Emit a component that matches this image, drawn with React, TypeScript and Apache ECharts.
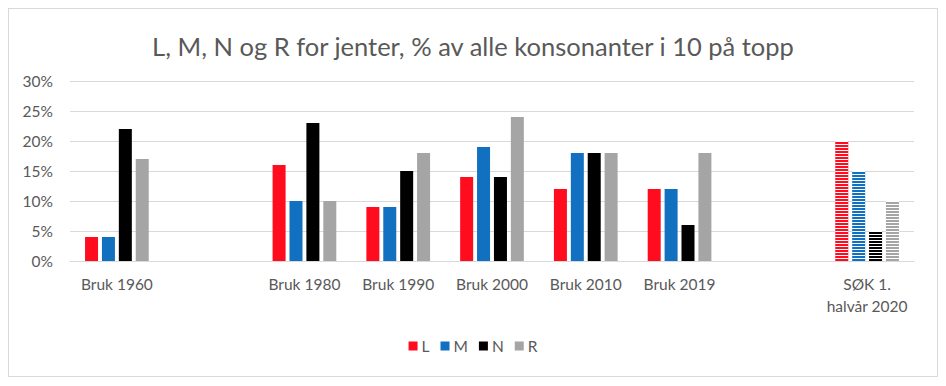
import React, { useEffect, useRef } from "react";
import * as echarts from "echarts";

const categories = ["Bruk 1960", "", "Bruk 1980", "Bruk 1990", "Bruk 2000", "Bruk 2010", "Bruk 2019", "", "SØK 1.\nhalvår 2020"];
const seriesNames = ["L", "M", "N", "R"];
const valuesL = [4, null, 16, 9, 14, 12, 12, null, 20];
const valuesM = [4, null, 10, 9, 19, 18, 12, null, 15];
const valuesN = [22, null, 23, 15, 14, 18, 6, null, 5];
const valuesR = [17, null, 10, 18, 24, 18, 18, null, 10];
const yTicks = [0, 5, 10, 15, 20, 25, 30];
const colors = ["#FF0D1F", "#1170C0", "#000000", "#A5A5A5"];
const stripedIndex = 8;

const FONT = "Lato, 'Open Sans', sans-serif";

export default function App() {
  const ref = useRef<HTMLDivElement>(null);
  useEffect(() => {
    if (!ref.current) return;
    const chart = echarts.init(ref.current, null, { renderer: "svg" });
    const all = [valuesL, valuesM, valuesN, valuesR];
    const series = all.map((vals, si) => ({
      name: seriesNames[si],
      type: "bar",
      barWidth: 13,
      barGap: "30%",
      itemStyle: { color: colors[si] },
      data: vals.map((v, i) =>
        i === stripedIndex
          ? {
              value: v,
              itemStyle: {
                color: colors[si],
                decal: {
                  symbol: "rect",
                  symbolSize: 1,
                  color: "#ffffff",
                  dashArrayX: [[10, 0]],
                  dashArrayY: [1, 2],
                  rotation: 0,
                },
              },
            }
          : v
      ),
    }));
    chart.setOption({
      animation: false,
      title: {
        text: "L, M, N og R for jenter, % av alle konsonanter i 10 på topp",
        left: "center",
        top: 19,
        textStyle: { fontFamily: FONT, fontSize: 25.5, fontWeight: "normal", color: "#595959" },
      },
      legend: {
        data: seriesNames,
        bottom: 17,
        left: "center",
        itemWidth: 9,
        itemHeight: 9,
        itemGap: 11,
        icon: "rect",
        textStyle: { fontFamily: FONT, fontSize: 15.5, color: "#595959", padding: [0, 0, 0, -1] },
      },
      grid: { left: 61, right: 23, top: 72, bottom: 115 },
      xAxis: {
        type: "category",
        data: categories,
        axisTick: { show: false },
        axisLine: { lineStyle: { color: "#d9d9d9" } },
        axisLabel: { fontFamily: FONT, fontSize: 15.5, color: "#595959", margin: 12, lineHeight: 22, interval: 0 },
      },
      yAxis: {
        type: "value",
        min: yTicks[0],
        max: yTicks[yTicks.length - 1],
        interval: 5,
        axisLabel: { fontFamily: FONT, fontSize: 15.5, color: "#595959", margin: 17, formatter: "{value}%" },
        splitLine: { lineStyle: { color: "#d9d9d9" } },
        axisLine: { show: false },
        axisTick: { show: false },
      },
      series,
    });
    return () => chart.dispose();
  }, []);
  return (
    <div
      ref={ref}
      style={{ width: 928, height: 367, border: "1px solid #d9d9d9", background: "#fff" }}
    />
  );
}
